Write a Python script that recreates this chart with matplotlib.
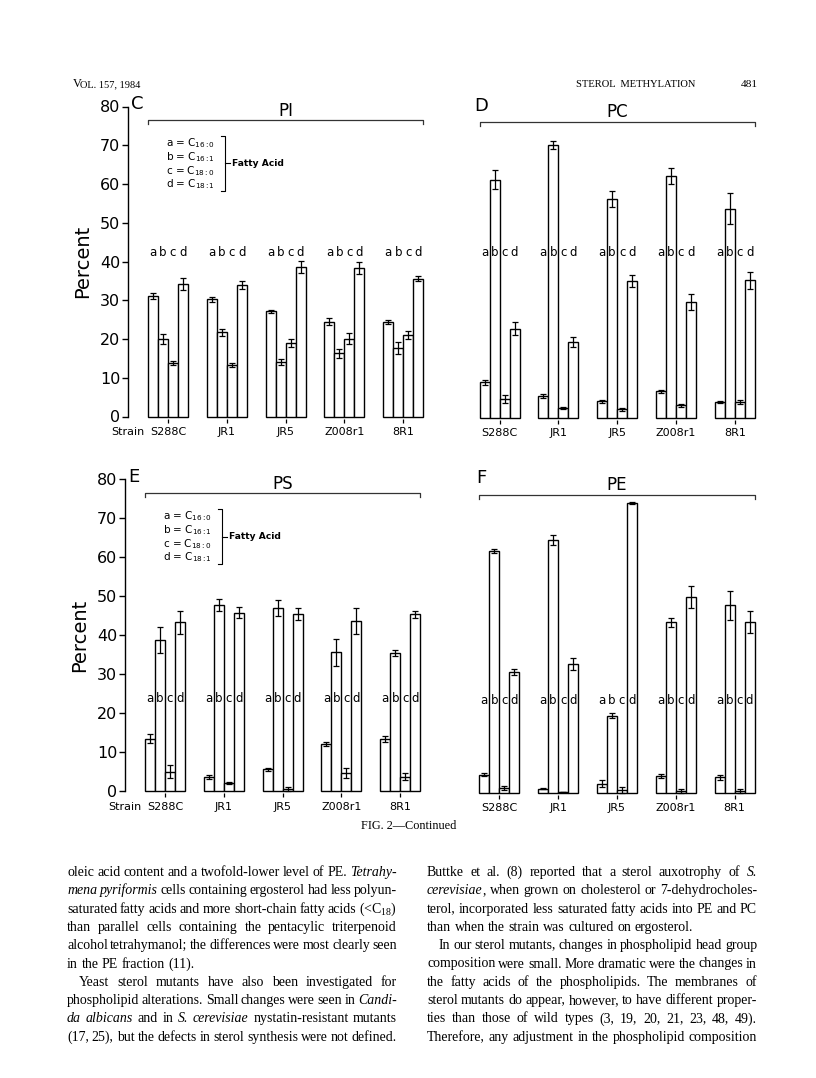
import matplotlib
matplotlib.use("Agg")
import matplotlib.pyplot as plt
import numpy as np

W, H, DPI = 816, 1078, 100
plt.rcParams.update({
    "font.family": ["DejaVu Sans"],
    "mathtext.fontset": "custom",
    "mathtext.rm": "Liberation Serif",
    "mathtext.it": "Liberation Serif:italic",
    "mathtext.bf": "Liberation Serif:bold",
    "mathtext.sf": "DejaVu Sans",
})

# ---------------- data ----------------
strains = ["S288C", "JR1", "JR5", "Z008r1", "8R1"]
fatty_letters = ["a", "b", "c", "d"]
legend_labels = [r"a = $\mathsf{C}_{\mathsf{16:0}}$", r"b = $\mathsf{C}_{\mathsf{16:1}}$",
                 r"c = $\mathsf{C}_{\mathsf{18:0}}$", r"d = $\mathsf{C}_{\mathsf{18:1}}$"]
yticks = [0, 10, 20, 30, 40, 50, 60, 70, 80]

# rows = strains, columns = fatty acids a, b, c, d  (percent)
pi_mean = [[31.2, 20.0, 13.9, 34.2], [30.2, 21.7, 13.4, 33.9], [27.1, 14.1, 19.0, 38.6],
           [24.5, 16.3, 20.1, 38.3], [24.4, 17.6, 21.1, 35.6]]
pi_err = [[0.8, 1.2, 0.5, 1.6], [0.6, 1.0, 0.5, 1.0], [0.5, 0.8, 1.1, 1.6],
          [1.0, 1.2, 1.5, 1.6], [0.6, 1.5, 1.0, 0.7]]
pc_mean = [[9.2, 61.5, 5.0, 23.0], [5.6, 70.5, 2.6, 19.5], [4.3, 56.5, 2.2, 35.3],
           [6.9, 62.5, 3.3, 30.0], [4.2, 54.0, 4.2, 35.5]]
pc_err = [[0.6, 2.5, 1.0, 1.7], [0.5, 1.1, 0.3, 1.3], [0.4, 2.0, 0.5, 1.6],
          [0.4, 2.0, 0.4, 2.0], [0.3, 4.0, 0.5, 2.2]]
ps_mean = [[13.4, 38.7, 5.0, 43.3], [3.7, 47.7, 2.0, 45.8], [5.6, 47.0, 0.6, 45.4],
           [12.1, 35.6, 4.7, 43.6], [13.4, 35.4, 3.7, 45.3]]
ps_err = [[1.2, 3.3, 1.7, 3.0], [0.5, 1.5, 0.3, 1.3], [0.4, 2.0, 0.5, 1.5],
          [0.6, 3.5, 1.3, 3.3], [0.7, 0.8, 0.8, 1.0]]
pe_mean = [[4.6, 62.0, 1.2, 31.0], [1.0, 64.8, 0.1, 32.9], [2.3, 19.7, 0.7, 74.3],
           [4.2, 43.7, 0.4, 50.2], [3.9, 48.0, 0.5, 43.8]]
pe_err = [[0.4, 0.6, 0.5, 0.8], [0.2, 1.3, 0.0, 1.5], [0.8, 0.6, 0.7, 0.3],
          [0.5, 1.2, 0.4, 2.8], [0.7, 3.8, 0.5, 2.8]]

# --------------- figure ---------------
fig = plt.figure(figsize=(W / DPI, H / DPI), dpi=DPI)
fig.patch.set_facecolor("white")

GAP = 5.88      # group spacing in bar widths
XLIM = (-4.0, 26.0)


def px_axes(left_px, base_px, top_px):
    width_px = (XLIM[1] - XLIM[0]) * 10.0
    return fig.add_axes([left_px / W, 1 - base_px / H, width_px / W, (base_px - top_px) / H])


def panel(ax, mean, err, letter, letter_dx, title, label_y, show_axis, legend):
    mean = np.asarray(mean)
    err = np.asarray(err)
    ax.set_xlim(*XLIM)
    ax.set_ylim(0, 80)
    ax.patch.set_alpha(0)
    for s in ["top", "right", "bottom"]:
        ax.spines[s].set_visible(False)
    ax.set_xticks([])
    centers = np.arange(len(strains)) * GAP
    for j in range(4):
        xs = centers + (j - 1.5)
        ax.bar(xs, mean[:, j], width=1.0, color="white", edgecolor="black",
               linewidth=1.0, zorder=2, clip_on=False)
        ax.errorbar(xs, mean[:, j], yerr=err[:, j], fmt="none", ecolor="black",
                    elinewidth=0.9, capsize=2.2, capthick=0.9, zorder=3, clip_on=False)
        for c in centers:
            ax.text(c + (j - 1.5), label_y, fatty_letters[j], ha="center", va="center",
                    fontsize=8.5, zorder=4)
    ax.vlines(centers, -1.6, -0.6, colors="black", linewidth=0.9, clip_on=False)
    for c, s in zip(centers, strains):
        ax.text(c, -4.0, s, ha="center", va="center", fontsize=8, clip_on=False)
    # bracket over all groups
    x0, x1 = centers[0] - 2, centers[-1] + 2
    yb = 76.4
    ax.plot([x0, x0, x1, x1], [yb - 1.0, yb, yb, yb - 1.0], color="#333333",
            linewidth=0.9, clip_on=False)
    ax.text((x0 + x1) / 2, 78.9, title, ha="center", va="center", fontsize=12)
    ax.text(x0 + letter_dx, 80.6, letter, ha="center", va="center", fontsize=13)
    if show_axis:
        ax.spines["left"].set_linewidth(1.0)
        ax.set_yticks(yticks)
        ax.tick_params(axis="y", direction="out", length=4, width=1.0, pad=1.5, labelsize=11.5)
        ax.set_ylabel("Percent", fontsize=14, labelpad=6)
        ax.text(XLIM[0], -4.0, "Strain", ha="center", va="center", fontsize=8, clip_on=False)
    else:
        ax.spines["left"].set_visible(False)
        ax.set_yticks([])
    if legend:
        ly = 70.4
        for k, lab in enumerate(legend_labels):
            ax.text(-0.2, ly - k * 3.5, lab, ha="left", va="center", fontsize=7.5)
        bx = 5.7
        ax.plot([bx - 0.4, bx, bx, bx - 0.4], [72.4, 72.4, 58.2, 58.2], color="black",
                linewidth=0.8, clip_on=False)
        ax.plot([bx, bx + 0.45], [65.3, 65.3], color="black", linewidth=0.8)
        ax.text(bx + 0.7, 65.3, "Fatty Acid", ha="left", va="center", fontsize=6.6,
                fontweight="bold")


axC = px_axes(128, 416.5, 106.5)
panel(axC, pi_mean, pi_err, "C", -1.1, "PI", 42.3, True, True)
axD = px_axes(459.5, 418.0, 108.0)
panel(axD, pc_mean, pc_err, "D", 0.2, "PC", 42.6, False, False)
axE = px_axes(125, 791.0, 479.3)
panel(axE, ps_mean, ps_err, "E", -1.1, "PS", 23.8, True, True)
axF = px_axes(459.3, 792.5, 480.8)
panel(axF, pe_mean, pe_err, "F", 0.2, "PE", 23.5, False, False)

# --------------- page text ---------------
SERIF = "Liberation Serif"


def ftext(x, y, s, **kw):
    return fig.text(x / W, 1 - y / H, s, **kw)


ftext(73, 87, "V", fontsize=8.8, family=SERIF, va="baseline")
ftext(79.8, 87, "OL. 157, 1984", fontsize=7.5, family=SERIF, va="baseline")
ftext(576, 87, "STEROL  METHYLATION", fontsize=7.6, family=SERIF, va="baseline")
ftext(758, 87, "481", fontsize=8.2, family=SERIF, va="baseline", ha="right")
ftext(409, 826, "FIG. 2\u2014Continued", fontsize=8.8, family=SERIF, va="center", ha="center")

left_lines = [
    ("oleic acid content and a twofold-lower level of PE. *Tetrahy-*", "j", 0),
    ("*mena pyriformis* cells containing ergosterol had less polyun-", "j", 0),
    (r"saturated fatty acids and more short-chain fatty acids (<$\mathrm{C}_{18}$)", "j", 0),
    ("than parallel cells containing the pentacylic triterpenoid", "j", 0),
    ("alcohol tetrahymanol; the differences were most clearly seen", "j", 0),
    ("in the PE fraction (11).", "l", 0),
    ("Yeast sterol mutants have also been investigated for", "j", 12),
    ("phospholipid alterations. Small changes were seen in *Candi-*", "j", 0),
    ("*da albicans* and in *S. cerevisiae* nystatin-resistant mutants", "j", 0),
    ("(17, 25), but the defects in sterol synthesis were not defined.", "j", 0),
]
right_lines = [
    ("Buttke et al. (8) reported that a sterol auxotrophy of *S.*", "j", 0),
    ("*cerevisiae*, when grown on cholesterol or 7-dehydrocholes-", "j", 0),
    ("terol, incorporated less saturated fatty acids into PE and PC", "j", 0),
    ("than when the strain was cultured on ergosterol.", "l", 0),
    ("In our sterol mutants, changes in phospholipid head group", "j", 12),
    ("composition were small. More dramatic were the changes in", "j", 0),
    ("the fatty acids of the phospholipids. The membranes of", "j", 0),
    ("sterol mutants do appear, however, to have different proper-", "j", 0),
    ("ties than those of wild types (3, 19, 20, 21, 23, 48, 49).", "j", 0),
    ("Therefore, any adjustment in the phospholipid composition", "j", 0),
]


def parse_line(line):
    words, cur, buf, italic, inmath = [], [], "", False, False
    for ch in line:
        if ch == "$":
            inmath = not inmath
            buf += ch
        elif ch == "*" and not inmath:
            if buf:
                cur.append((buf, italic))
                buf = ""
            italic = not italic
        elif ch == " " and not inmath:
            if buf:
                cur.append((buf, italic))
                buf = ""
            if cur:
                words.append(cur)
                cur = []
        else:
            buf += ch
    if buf:
        cur.append((buf, italic))
    if cur:
        words.append(cur)
    return words


renderer = fig.canvas.get_renderer()


def piece_width(txt, italic, fs):
    t = fig.text(0, 0, txt, fontsize=fs, family=SERIF, style="italic" if italic else "normal")
    w = t.get_window_extent(renderer).width
    t.remove()
    return w


def word_width(word, fs):
    return sum(piece_width(p, it, fs) for p, it in word)


COLW = 330.0
# choose font size so that the tightest justified line fits
test_fs = 10.0
req = []
for lines in (left_lines, right_lines):
    for line, mode, ind in lines:
        if mode == "j":
            ws = parse_line(line)
            tot = sum(word_width(w, test_fs) for w in ws)
            req.append((tot + (len(ws) - 1) * 0.17 * test_fs * DPI / 72) / (COLW - ind))
FS = min(10.0, test_fs / max(req))


def draw_column(lines, x0, y0, lh):
    for k, (line, mode, ind) in enumerate(lines):
        ws = parse_line(line)
        widths = [word_width(w, FS) for w in ws]
        if mode == "j" and len(ws) > 1:
            gap = (COLW - ind - sum(widths)) / (len(ws) - 1)
        else:
            gap = piece_width("a b", False, FS) - piece_width("ab", False, FS)
        x = x0 + ind
        y = y0 + k * lh
        for w, wd in zip(ws, widths):
            xx = x
            for p, it in w:
                ftext(xx, y, p, fontsize=FS, family=SERIF, va="baseline", ha="left",
                      style="italic" if it else "normal")
                xx += piece_width(p, it, FS)
            x += wd + gap


draw_column(left_lines, 67, 876, 18.3)
draw_column(right_lines, 427, 876, 18.3)

fig.savefig("out.png", dpi=DPI, facecolor="white")
